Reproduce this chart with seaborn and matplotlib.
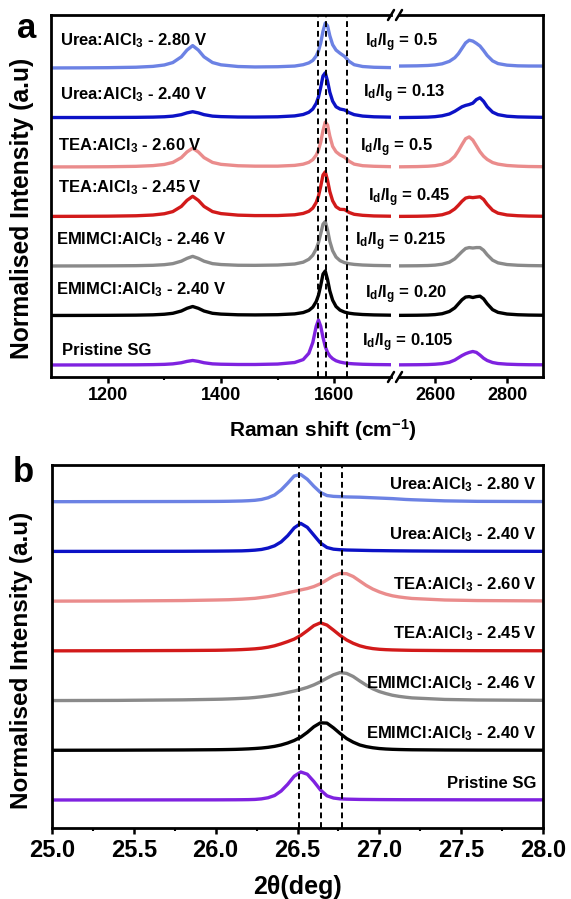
import numpy as np
import pandas as pd
import matplotlib
matplotlib.use("Agg")
import matplotlib.pyplot as plt
import seaborn as sns
from matplotlib.ticker import MultipleLocator, FixedLocator
from matplotlib.lines import Line2D

# ---------------- data ----------------
samples = [
    "Pristine SG",
    r"EMIMCl:AlCl$_3$ - 2.40 V",
    r"EMIMCl:AlCl$_3$ - 2.46 V",
    r"TEA:AlCl$_3$ - 2.45 V",
    r"TEA:AlCl$_3$ - 2.60 V",
    r"Urea:AlCl$_3$ - 2.40 V",
    r"Urea:AlCl$_3$ - 2.80 V",
]
colors = ["#7f22e0", "#000000", "#8a8a8a", "#d21a1a", "#ea8c8c", "#0c12c6", "#6c82e4"]
id_ig = ["0.105", "0.20", "0.215", "0.45", "0.5", "0.13", "0.5"]

raman_x_low = [1100, 1150, 1200, 1250, 1280, 1300, 1315, 1330, 1340, 1350, 1360, 1370, 1385,
               1400, 1430, 1460, 1500, 1530, 1545, 1555, 1562, 1568, 1572, 1576, 1580, 1584,
               1588, 1592, 1597, 1603, 1610, 1618, 1626, 1635, 1650, 1670, 1700]
raman_x_high = [2500, 2550, 2580, 2600, 2620, 2640, 2655, 2665, 2675, 2685, 2695, 2705,
                2715, 2725, 2735, 2745, 2760, 2775, 2800, 2830, 2860, 2900]

raman_pristine_low = [0.000, 0.001, 0.002, 0.004, 0.008, 0.014, 0.025, 0.050, 0.080, 0.100, 0.080, 0.050, 0.025,
                      0.017, 0.011, 0.011, 0.021, 0.055, 0.120, 0.260, 0.500, 0.860, 1.000, 0.860, 0.610, 0.410,
                      0.280, 0.200, 0.140, 0.094, 0.065, 0.045, 0.033, 0.025, 0.016, 0.010, 0.006]
raman_emim240_low = [0.001, 0.002, 0.004, 0.008, 0.015, 0.028, 0.049, 0.100, 0.160, 0.200, 0.160, 0.100, 0.049,
                     0.031, 0.016, 0.013, 0.018, 0.036, 0.065, 0.113, 0.185, 0.310, 0.450, 0.670, 0.920, 0.990,
                     0.800, 0.550, 0.340, 0.200, 0.120, 0.075, 0.051, 0.036, 0.022, 0.013, 0.007]
raman_emim246_low = [0.001, 0.002, 0.004, 0.008, 0.016, 0.030, 0.053, 0.108, 0.170, 0.215, 0.170, 0.108, 0.053,
                     0.033, 0.017, 0.015, 0.022, 0.045, 0.085, 0.150, 0.240, 0.380, 0.520, 0.720, 0.930, 0.990,
                     0.800, 0.550, 0.340, 0.200, 0.120, 0.075, 0.051, 0.036, 0.022, 0.013, 0.007]
raman_tea245_low = [0.003, 0.005, 0.008, 0.017, 0.034, 0.062, 0.110, 0.225, 0.360, 0.450, 0.360, 0.225, 0.110,
                    0.065, 0.031, 0.021, 0.022, 0.039, 0.069, 0.116, 0.188, 0.313, 0.453, 0.673, 0.923, 0.994,
                    0.805, 0.557, 0.350, 0.218, 0.160, 0.155, 0.091, 0.050, 0.027, 0.013, 0.007]
raman_tea260_low = [0.003, 0.004, 0.007, 0.016, 0.032, 0.058, 0.103, 0.210, 0.336, 0.420, 0.336, 0.210, 0.103,
                    0.060, 0.029, 0.020, 0.020, 0.037, 0.064, 0.105, 0.165, 0.265, 0.375, 0.555, 0.810, 1.000,
                    0.935, 0.690, 0.460, 0.340, 0.270, 0.220, 0.130, 0.065, 0.030, 0.017, 0.008]
raman_urea240_low = [0.001, 0.001, 0.002, 0.005, 0.010, 0.018, 0.032, 0.065, 0.104, 0.130, 0.104, 0.065, 0.032,
                     0.021, 0.012, 0.011, 0.017, 0.037, 0.068, 0.117, 0.190, 0.315, 0.455, 0.675, 0.925, 0.995,
                     0.810, 0.565, 0.365, 0.240, 0.190, 0.170, 0.110, 0.065, 0.033, 0.017, 0.009]
raman_urea280_low = [0.003, 0.005, 0.009, 0.019, 0.038, 0.069, 0.123, 0.250, 0.400, 0.500, 0.400, 0.250, 0.123,
                     0.072, 0.035, 0.025, 0.030, 0.045, 0.075, 0.115, 0.170, 0.270, 0.380, 0.560, 0.820, 1.000,
                     0.940, 0.720, 0.520, 0.400, 0.330, 0.260, 0.150, 0.075, 0.035, 0.018, 0.010]

raman_pristine_high = [0.003, 0.006, 0.010, 0.017, 0.030, 0.060, 0.110, 0.160, 0.210, 0.250, 0.280, 0.300,
                       0.280, 0.220, 0.150, 0.100, 0.055, 0.033, 0.018, 0.010, 0.006, 0.004]
raman_emim240_high = [0.003, 0.006, 0.011, 0.020, 0.040, 0.090, 0.170, 0.260, 0.350, 0.410, 0.420, 0.400,
                      0.420, 0.430, 0.370, 0.260, 0.130, 0.070, 0.033, 0.017, 0.010, 0.006]
raman_emim246_high = [0.003, 0.006, 0.011, 0.020, 0.040, 0.085, 0.160, 0.240, 0.320, 0.390, 0.410, 0.400,
                      0.410, 0.410, 0.350, 0.250, 0.130, 0.070, 0.033, 0.017, 0.010, 0.006]
raman_tea245_high = [0.003, 0.006, 0.012, 0.020, 0.040, 0.090, 0.170, 0.250, 0.340, 0.410, 0.430, 0.420,
                     0.430, 0.440, 0.380, 0.270, 0.140, 0.075, 0.035, 0.018, 0.010, 0.006]
raman_tea260_high = [0.005, 0.010, 0.018, 0.030, 0.060, 0.130, 0.240, 0.360, 0.500, 0.630, 0.670, 0.600,
                     0.470, 0.340, 0.240, 0.170, 0.100, 0.065, 0.035, 0.020, 0.012, 0.008]
raman_urea240_high = [0.000, 0.005, 0.010, 0.020, 0.040, 0.080, 0.140, 0.190, 0.240, 0.270, 0.290, 0.320,
                      0.400, 0.440, 0.360, 0.240, 0.120, 0.065, 0.030, 0.015, 0.010, 0.005]
raman_urea280_high = [0.045, 0.050, 0.058, 0.070, 0.095, 0.150, 0.230, 0.320, 0.440, 0.560, 0.620, 0.600,
                      0.550, 0.490, 0.390, 0.280, 0.160, 0.100, 0.065, 0.050, 0.046, 0.045]

xrd_x = [25.0, 25.4, 25.8, 26.0, 26.04, 26.08, 26.12, 26.16, 26.2, 26.24, 26.28, 26.32, 26.36, 26.4,
         26.44, 26.48, 26.52, 26.56, 26.6, 26.64, 26.68, 26.72, 26.76, 26.8, 26.84, 26.88, 26.92,
         26.96, 27.0, 27.04, 27.08, 27.12, 27.16, 27.2, 27.4, 27.6, 28.0]
xrd_pristine = [0.000, 0.002, 0.004, 0.005, 0.006, 0.007, 0.008, 0.010, 0.013, 0.020, 0.040, 0.080, 0.160,
                0.320, 0.560, 0.850, 1.000, 0.920, 0.660, 0.360, 0.150, 0.070, 0.040, 0.030, 0.025, 0.020,
                0.018, 0.016, 0.014, 0.013, 0.012, 0.011, 0.010, 0.010, 0.008, 0.006, 0.005]
xrd_emim240 = [0.000, 0.004, 0.012, 0.020, 0.023, 0.027, 0.032, 0.040, 0.050, 0.063, 0.080, 0.105, 0.140,
               0.190, 0.260, 0.350, 0.470, 0.640, 0.840, 0.980, 0.970, 0.800, 0.600, 0.420, 0.290, 0.190,
               0.130, 0.090, 0.062, 0.045, 0.034, 0.027, 0.022, 0.018, 0.010, 0.006, 0.003]
xrd_emim246 = [0.000, 0.006, 0.025, 0.045, 0.050, 0.058, 0.067, 0.078, 0.090, 0.110, 0.135, 0.165, 0.200,
               0.240, 0.290, 0.340, 0.400, 0.470, 0.560, 0.670, 0.800, 0.920, 1.000, 0.970, 0.860, 0.700,
               0.550, 0.420, 0.320, 0.250, 0.190, 0.150, 0.120, 0.095, 0.040, 0.020, 0.008]
xrd_tea245 = [0.000, 0.004, 0.012, 0.020, 0.024, 0.030, 0.036, 0.045, 0.057, 0.072, 0.095, 0.130, 0.180,
              0.250, 0.330, 0.420, 0.550, 0.720, 0.900, 1.000, 0.920, 0.740, 0.550, 0.390, 0.270, 0.180,
              0.120, 0.080, 0.056, 0.042, 0.033, 0.027, 0.022, 0.018, 0.010, 0.006, 0.003]
xrd_tea260 = [0.000, 0.005, 0.020, 0.040, 0.045, 0.050, 0.060, 0.070, 0.085, 0.100, 0.130, 0.160, 0.200,
              0.250, 0.300, 0.350, 0.400, 0.450, 0.520, 0.620, 0.760, 0.900, 0.990, 0.980, 0.880, 0.720,
              0.560, 0.430, 0.330, 0.250, 0.190, 0.150, 0.120, 0.095, 0.040, 0.020, 0.008]
xrd_urea240 = [0.000, 0.002, 0.005, 0.010, 0.012, 0.014, 0.017, 0.020, 0.030, 0.045, 0.070, 0.120, 0.200,
               0.340, 0.560, 0.840, 1.000, 0.860, 0.580, 0.300, 0.140, 0.080, 0.060, 0.050, 0.045, 0.040,
               0.035, 0.030, 0.028, 0.025, 0.022, 0.020, 0.018, 0.016, 0.010, 0.006, 0.003]
xrd_urea280 = [0.000, 0.003, 0.006, 0.010, 0.012, 0.015, 0.020, 0.025, 0.035, 0.050, 0.080, 0.140, 0.240,
               0.420, 0.660, 0.920, 0.970, 0.800, 0.550, 0.330, 0.220, 0.190, 0.180, 0.170, 0.165, 0.160,
               0.150, 0.140, 0.130, 0.120, 0.110, 0.095, 0.080, 0.070, 0.030, 0.012, 0.005]

raman_low = [raman_pristine_low, raman_emim240_low, raman_emim246_low, raman_tea245_low,
             raman_tea260_low, raman_urea240_low, raman_urea280_low]
raman_high = [raman_pristine_high, raman_emim240_high, raman_emim246_high, raman_tea245_high,
              raman_tea260_high, raman_urea240_high, raman_urea280_high]
xrd = [xrd_pristine, xrd_emim240, xrd_emim246, xrd_tea245, xrd_tea260, xrd_urea240, xrd_urea280]

raman_dashes = [1571.5, 1585.5, 1622.5]
xrd_dashes = [26.51, 26.645, 26.77]

# ---------------- style ----------------
sns.set_theme(style="ticks")
plt.rcParams["font.family"] = ["Liberation Sans", "DejaVu Sans"]
plt.rcParams["font.weight"] = "bold"
plt.rcParams["axes.labelweight"] = "bold"
plt.rcParams["text.color"] = "black"
plt.rcParams["axes.labelcolor"] = "black"
plt.rcParams["xtick.color"] = "black"
plt.rcParams["ytick.color"] = "black"
plt.rcParams["axes.edgecolor"] = "black"
plt.rcParams["mathtext.fontset"] = "custom"
plt.rcParams["mathtext.rm"] = "Liberation Sans:bold"
plt.rcParams["mathtext.it"] = "Liberation Sans:bold"
plt.rcParams["mathtext.bf"] = "Liberation Sans:bold"
plt.rcParams["mathtext.default"] = "rm"

W, H = 571, 899
fig = plt.figure(figsize=(W / 100, H / 100), dpi=100)


def fr(x0, y_top, w, h):
    return [x0 / W, 1 - (y_top + h) / H, w / W, h / H]


axR = fig.add_axes(fr(399, 15, 144, 362))
axL = fig.add_axes(fr(51, 15, 340, 362))
axB = fig.add_axes(fr(52, 465, 491, 363))
axR.patch.set_visible(False)
axL.patch.set_visible(False)
axL.set_zorder(2)
axR.set_zorder(1)

LW = 2.4
step_a = 1.1
step_b = 1.775

for i, (lab, col) in enumerate(zip(samples, colors)):
    off = i * step_a
    sns.lineplot(x=raman_x_low, y=np.array(raman_low[i]) + off, ax=axL, color=col,
                 linewidth=LW, estimator=None, sort=False)
    sns.lineplot(x=raman_x_high, y=np.array(raman_high[i]) + off, ax=axR, color=col,
                 linewidth=LW, estimator=None, sort=False)
    offb = i * step_b
    sns.lineplot(x=xrd_x, y=np.array(xrd[i]) + offb, ax=axB, color=col,
                 linewidth=LW, estimator=None, sort=False)

# label positions (x in data coords, dy above baseline)
left_x = [1120, 1109, 1109, 1112, 1112, 1116, 1116]
left_dy = [0.33, 0.58, 0.58, 0.64, 0.48, 0.52, 0.62]
ratio_x = [1649, 1654, 1637, 1660, 1645, 1651, 1654]
ratio_dy = [0.49, 0.47, 0.53, 0.42, 0.44, 0.53, 0.56]
for i, lab in enumerate(samples):
    off = i * step_a
    axL.text(left_x[i], off + left_dy[i], lab, fontsize=12, fontweight="bold",
             ha="left", va="center", color="black")
    axL.text(ratio_x[i], off + ratio_dy[i], r"I$_d$/I$_g$ = " + id_ig[i], fontsize=12,
             fontweight="bold", ha="left", va="center", color="black", zorder=10)
    axB.text(27.96, i * step_b + 0.6, lab, fontsize=12, fontweight="bold",
             ha="right", va="center", color="black")

for xv in raman_dashes:
    axL.axvline(xv, color="black", linestyle=(0, (3, 2)), linewidth=1.4)
for xv in xrd_dashes:
    axB.axvline(xv, color="black", linestyle=(0, (3, 2)), linewidth=1.4)

axL.set_xlim(1100, 1700)
axR.set_xlim(2500, 2900)
ylim_a = (-0.267, 7.78)
axL.set_ylim(*ylim_a)
axR.set_ylim(*ylim_a)
axB.set_xlim(25.0, 28.0)
axB.set_ylim(-1.0, 11.96)

axL.xaxis.set_major_locator(FixedLocator([1200, 1400, 1600]))
axL.xaxis.set_minor_locator(FixedLocator([1300, 1500]))
axR.xaxis.set_major_locator(FixedLocator([2600, 2800]))
axR.xaxis.set_minor_locator(FixedLocator([2700]))
axB.xaxis.set_major_locator(MultipleLocator(0.5))
axB.xaxis.set_minor_locator(MultipleLocator(0.25))
axB.xaxis.set_major_formatter(matplotlib.ticker.FormatStrFormatter("%.1f"))

for ax in (axL, axR, axB):
    ax.set_yticks([])
    ax.set_xlabel("")
    ax.set_ylabel("")
    for s in ax.spines.values():
        s.set_linewidth(2.0)
        s.set_color("black")
    ax.tick_params(axis="x", which="major", direction="out", length=4, width=1.8,
                   pad=3, colors="black")
    ax.tick_params(axis="x", which="minor", direction="out", length=2.5, width=1.5,
                   colors="black")

axL.spines["right"].set_visible(False)
axR.spines["left"].set_visible(False)
axL.tick_params(axis="x", labelsize=13)
axR.tick_params(axis="x", labelsize=13)
axB.tick_params(axis="x", labelsize=17, pad=4)
for ax in (axL, axR, axB):
    for t in ax.get_xticklabels():
        t.set_fontweight("bold")

# axis break marks
for ypx in (15, 377):
    for xpx in (391, 399):
        fig.add_artist(Line2D([(xpx - 3) / W, (xpx + 3) / W],
                              [1 - (ypx + 5) / H, 1 - (ypx - 5) / H],
                              transform=fig.transFigure, color="black", linewidth=1.8))

# axis titles / labels
fig.text(22 / W, 1 - 208 / H, "Normalised Intensity (a.u)", rotation=90, fontsize=17.7,
         fontweight="bold", ha="center", va="center")
fig.text(22 / W, 1 - 660 / H, "Normalised Intensity (a.u)", rotation=90, fontsize=17.5,
         fontweight="bold", ha="center", va="center")
fig.text(323 / W, 1 - 430 / H, r"Raman shift (cm$^{-1}$)", fontsize=15, fontweight="bold",
         ha="center", va="center")
fig.text(298 / W, 1 - 887 / H, "2θ(deg)", fontsize=18, fontweight="bold",
         ha="center", va="center")
fig.text(27 / W, 1 - 28 / H, "a", fontsize=25, fontweight="bold", ha="center", va="center")
fig.text(23 / W, 1 - 472 / H, "b", fontsize=25, fontweight="bold", ha="center", va="center")

fig.savefig("out.png", dpi=100, facecolor="white")
